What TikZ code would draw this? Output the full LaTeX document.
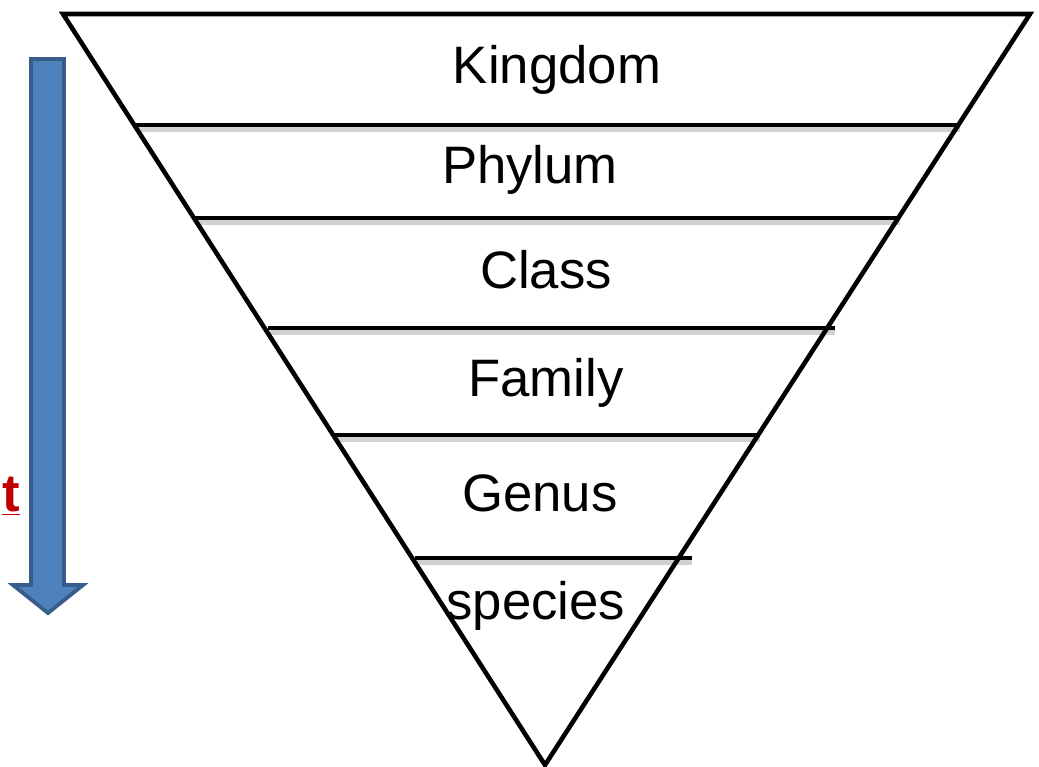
\documentclass[tikz,border=0pt]{standalone}
\usepackage{fontspec}
\setmainfont{Liberation Sans}
\usepackage{xcolor}
\usetikzlibrary{positioning}

\definecolor{arrowfill}{HTML}{4F81BD}
\definecolor{arrowedge}{HTML}{385D8A}
\definecolor{darkred}{HTML}{C00000}

\begin{document}
\begin{tikzpicture}[
    x=0.02cm, y=-0.02cm,
    edge/.style={line width=2.6pt, black},
    rank/.style={line width=2.6pt, black},
    shade/.style={line width=3pt, black!18},
    label/.style={font=\fontsize{30}{36}\selectfont, inner sep=0pt}
]
    \useasboundingbox (0,0) rectangle (1039,767);

    % Big down arrow
    \draw[fill=arrowfill, draw=arrowedge, line width=2.2pt, line join=miter]
        (31,59) -- (64,59) -- (64,585) -- (83,585) -- (48,613) -- (13,585) -- (31,585) -- cycle;

    % Clipped red text
    \node[inner sep=0pt, anchor=east, text=darkred, font=\bfseries\fontsize{30}{36}\selectfont] (cut) at (20,496) {\underline{t}};

    % Rank lines with shadow
    \draw[shade] (137,129) -- (960,129);
    \draw[shade] (197,222) -- (900,222);
    \draw[shade] (270,332) -- (835,332);
    \draw[shade] (334,439) -- (760,439);
    \draw[shade] (417,562) -- (692,562);

    \draw[rank] (135,125) -- (960,125);
    \draw[rank] (195,218) -- (900,218);
    \draw[rank] (268,328) -- (835,328);
    \draw[rank] (332,435) -- (760,435);
    \draw[rank] (415,558) -- (692,558);

    % Triangle
    \draw[edge, line join=miter] (63,14) -- (1030,14) -- (545,765) -- cycle;

    % Labels
    \node[label] (kingdom) at (557,70) {Kingdom};
    \node[label] (phylum) at (530,170) {Phylum};
    \node[label] (class) at (546,270) {Class};
    \node[label] (family) at (546,383) {Family};
    \node[label] (genus) at (540,493) {Genus};
    \node[label] (species) at (536,606) {species};
\end{tikzpicture}
\end{document}
